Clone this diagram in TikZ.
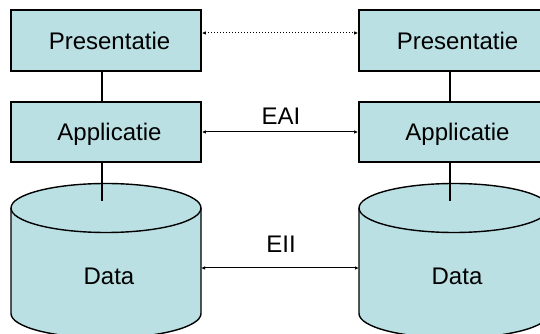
\documentclass[tikz,border=0pt]{standalone}
\usepackage{fontspec}
\setmainfont{Liberation Sans}
\usetikzlibrary{arrows.meta}
\definecolor{layerfill}{RGB}{186,224,228}
\tikzset{
  layer/.style={draw=black, line width=1.6pt, fill=layerfill, minimum width=190pt,
    inner sep=0pt, font=\fontsize{24}{28}\selectfont, text depth=0pt},
  dbtext/.style={inner sep=0pt, font=\fontsize{24}{28}\selectfont},
  tier/.style={draw=black, line width=1.2pt},
  link/.style={draw=black, line width=1pt, {Latex[length=4pt,width=3.5pt]}-{Latex[length=4pt,width=3.5pt]}},
  dotlink/.style={link, dotted},
  linklabel/.style={inner sep=0pt, anchor=base, font=\fontsize{24}{28}\selectfont},
  dbshape/.style={draw=black, line width=1.4pt, fill=layerfill}
}
\begin{document}
\begin{tikzpicture}[x=1pt, y=1pt]
\useasboundingbox (0,0) rectangle (540,334);

% database cylinders
\foreach \cx in {106,454} {
  \path[dbshape] (\cx-95,126) -- (\cx-95,20.5) arc (180:360:95 and 24.5)
    -- (\cx+95,126) arc (0:180:95 and 24.5) -- cycle;
  \draw[line width=1.4pt] (\cx-95,126) arc (180:360:95 and 24.5);
}

% layer boxes
\node[layer, minimum height=61pt] (presL) at (106,293.5) {\hspace*{7pt}Presentatie};
\node[layer, minimum height=60pt] (appL) at (106,202) {\hspace*{7pt}Applicatie};
\node[layer, minimum height=61pt] (presR) at (454,293.5) {\hspace*{7pt}Presentatie};
\node[layer, minimum height=60pt] (appR) at (454,202) {\hspace*{7pt}Applicatie};

% database labels and anchors
\node[dbtext] (dataL) at (109,58) {Data};
\node[dbtext] (dataR) at (457,58) {Data};
\coordinate (dbtopL) at (102,133.3);
\coordinate (dbtopR) at (450,133.3);
\coordinate (dbeastL) at (201,66);
\coordinate (dbwestR) at (359,66);

% vertical tiers
\draw[tier] (presL.south -| dbtopL) -- (appL.north -| dbtopL);
\draw[tier] (appL.south -| dbtopL) -- (dbtopL);
\draw[tier] (presR.south -| dbtopR) -- (appR.north -| dbtopR);
\draw[tier] (appR.south -| dbtopR) -- (dbtopR);

% horizontal integration links
\draw[dotlink] ([yshift=7.5pt]presL.east) -- ([yshift=7.5pt]presR.west);
\draw[link] (appL.east) -- (appR.west);
\draw[link] (dbeastL) -- (dbwestR);

\node[linklabel] (eai) at (281,209) {EAI};
\node[linklabel] (eii) at (281,81.3) {EII};
\end{tikzpicture}
\end{document}
